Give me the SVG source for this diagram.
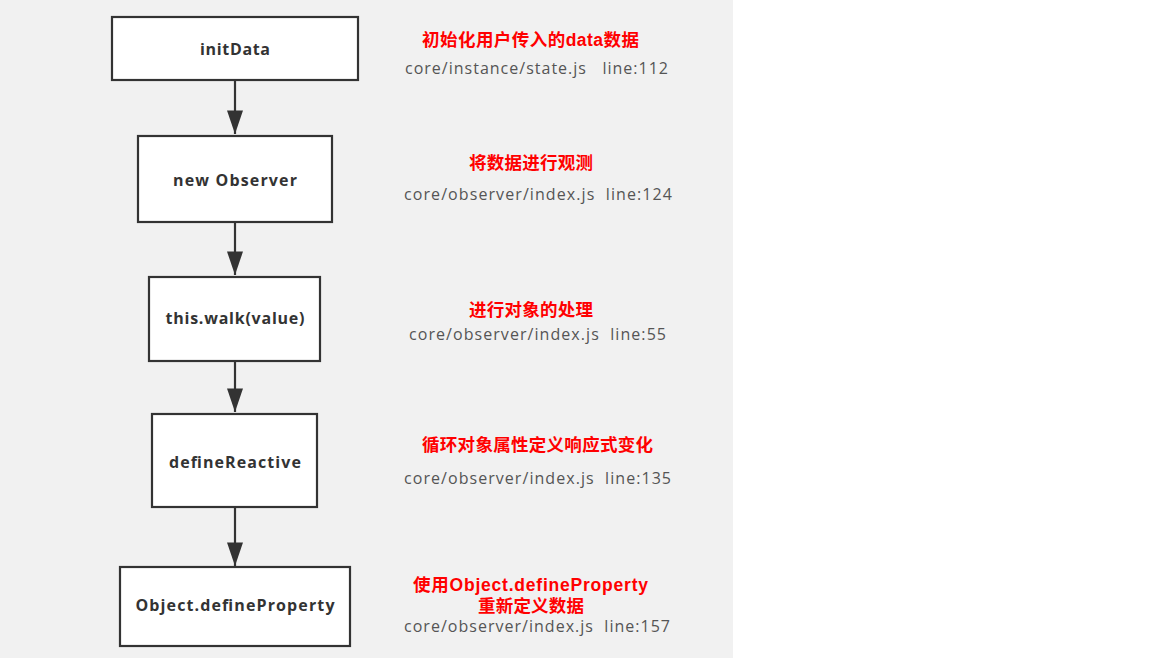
<svg xmlns="http://www.w3.org/2000/svg" width="1152" height="662" viewBox="0 0 1152 662">
<style>
.node rect{fill:#ffffff;stroke:#333333;stroke-width:2.2}
.lbl{font-family:"Open Sans","Noto Sans","Liberation Sans",sans-serif;font-weight:bold;font-size:16px;fill:#333333;text-anchor:middle}
.red{font-family:"Liberation Sans","Noto Sans CJK SC",sans-serif;font-weight:bold;font-size:17.5px;fill:#ff0000}
.path{font-family:"Open Sans","Noto Sans","Liberation Sans",sans-serif;font-size:16px;fill:#555555;white-space:pre}
.conn line{stroke:#333333;stroke-width:2.2}
</style>
<defs>
<marker id="arr" markerUnits="userSpaceOnUse" markerWidth="24" markerHeight="16" refX="22" refY="7.5" orient="auto" viewBox="0 0 22 15">
<path d="M0,0 L22,7.5 L0,15 Z" fill="#333333"/>
</marker>
</defs>
<rect x="0" y="0" width="1152" height="662" fill="#ffffff"/>
<rect x="0" y="0" width="733" height="658" fill="#f1f1f1"/>
<g id="connectors" class="conn">
<line x1="235" y1="81" x2="235" y2="134" marker-end="url(#arr)"/>
<line x1="235" y1="223" x2="235" y2="275" marker-end="url(#arr)"/>
<line x1="235" y1="362" x2="235" y2="412" marker-end="url(#arr)"/>
<line x1="235" y1="507" x2="235" y2="566" marker-end="url(#arr)"/>
</g>
<g id="initData" class="node">
<rect x="112" y="17" width="246" height="63"/>
<text class="lbl" x="235" y="55" textLength="70">initData</text>
</g>
<g id="newObserver" class="node">
<rect x="138" y="136" width="194" height="86"/>
<text class="lbl" x="235" y="186" textLength="124">new Observer</text>
</g>
<g id="walk" class="node">
<rect x="149" y="277" width="171" height="84"/>
<text class="lbl" x="235" y="324" textLength="139">this.walk(value)</text>
</g>
<g id="defineReactive" class="node">
<rect x="152" y="414" width="165" height="93"/>
<text class="lbl" x="235" y="468" textLength="132">defineReactive</text>
</g>
<g id="defineProperty" class="node">
<rect x="120" y="567" width="230" height="79"/>
<text class="lbl" x="235" y="611" textLength="199">Object.defineProperty</text>
</g>
<g id="notes">
<text class="red" x="422" y="45.5" textLength="217">初始化用户传入的data数据</text>
<text class="path" xml:space="preserve" x="405" y="73.5" textLength="263">core/instance/state.js   line:112</text>
<text class="red" x="469" y="168.5" textLength="124">将数据进行观测</text>
<text class="path" xml:space="preserve" x="404" y="200" textLength="268">core/observer/index.js  line:124</text>
<text class="red" x="469" y="315.5" textLength="124">进行对象的处理</text>
<text class="path" xml:space="preserve" x="409" y="340" textLength="257">core/observer/index.js  line:55</text>
<text class="red" x="422" y="450.5" textLength="231">循环对象属性定义响应式变化</text>
<text class="path" xml:space="preserve" x="404" y="484" textLength="267">core/observer/index.js  line:135</text>
<text class="red" x="413" y="590.5" textLength="235">使用Object.defineProperty</text>
<text class="red" x="478" y="611.5" textLength="106">重新定义数据</text>
<text class="path" xml:space="preserve" x="404" y="632" textLength="266">core/observer/index.js  line:157</text>
</g>
</svg>
